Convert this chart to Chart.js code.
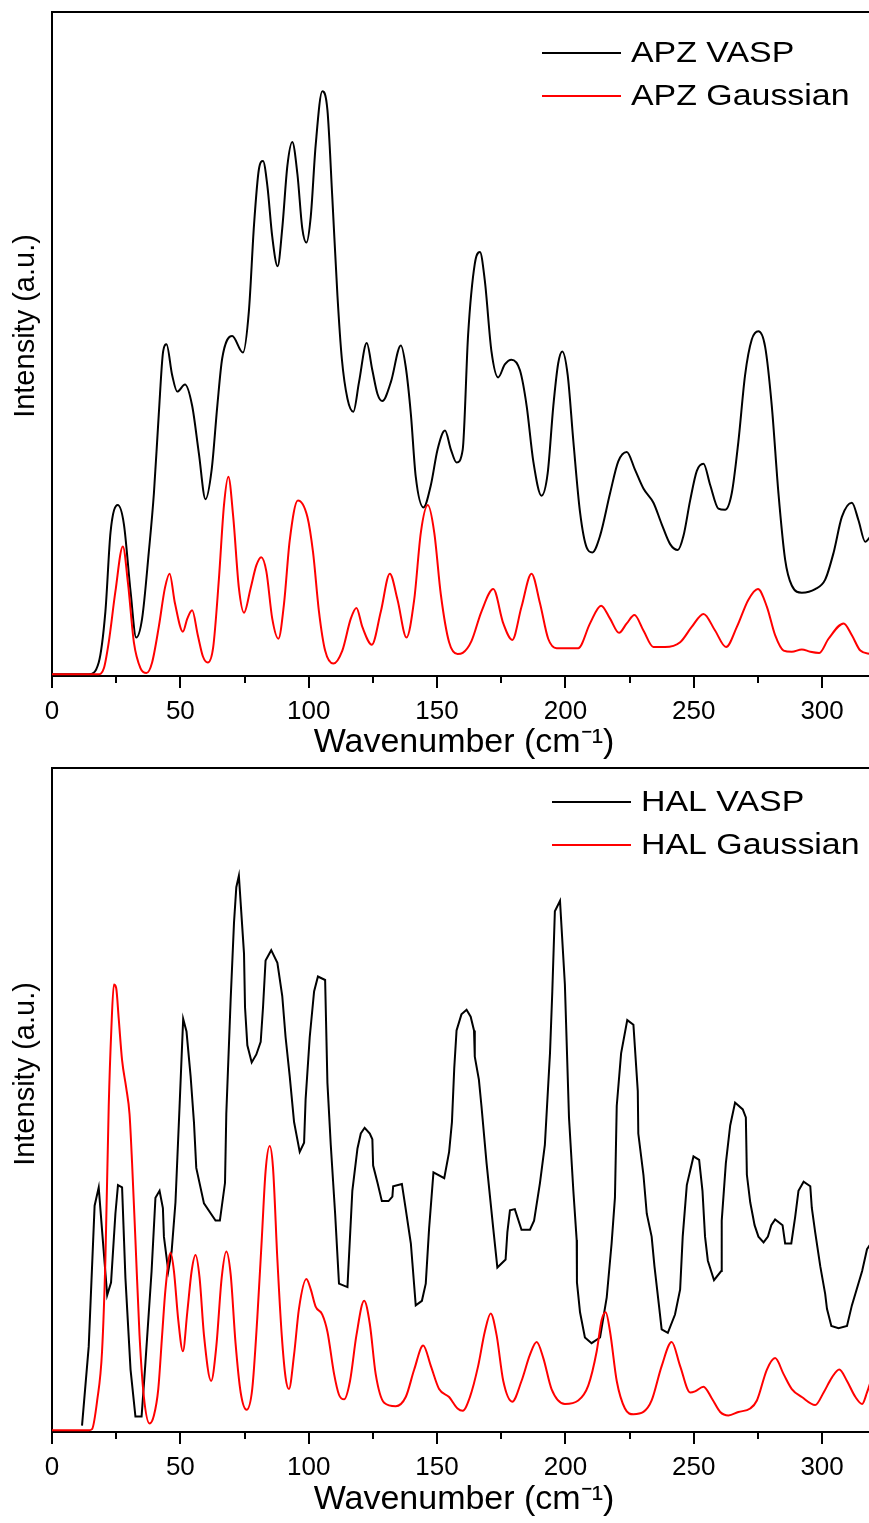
<!DOCTYPE html>
<html>
<head>
<meta charset="utf-8">
<script src="https://cdn.jsdelivr.net/npm/chart.js@4.4.1/dist/chart.umd.min.js"></script>
<style>
  html, body { margin: 0; padding: 0; background: #fff; overflow: hidden; }
  #page { position: relative; width: 869px; height: 1523px; overflow: hidden; background: #fff; }
  .box { position: absolute; left: 0; width: 876px; }
  #boxAPZ { top: 0; height: 760px; }
  #boxHAL { top: 760px; height: 763px; }
</style>
</head>
<body>
<div id="page">
  <div class="box" id="boxAPZ"><canvas id="chartAPZ"></canvas></div>
  <div class="box" id="boxHAL"><canvas id="chartHAL"></canvas></div>
</div>
<script>
// wavenumber (cm-1) / intensity (a.u.)
const apzVaspX = [0, 14.3, 18.2, 20.8, 22.8, 25.6, 28, 30.6, 32.8, 35.1,
  37.7, 39.7, 41.6, 43.3, 44.6, 46.8, 48.8, 51.8, 54.6, 57.2,
  59.8, 62.2, 64.4, 66.3, 70.2, 74.4, 76.7, 78.7, 80.6, 82.2,
  83.9, 85.8, 87.9, 89.7, 91.7, 93.6, 95.6, 97.5, 99.1, 100.8,
  102.7, 105.3, 107.3, 109.2, 111.2, 112.9, 115.1, 117.4, 119.6, 122.6,
  124.8, 126.8, 128.7, 132, 135.9, 137.8, 139.8, 141.7, 144.7, 147.6,
  150.2, 153.1, 155.4, 157.6, 160, 162.1, 164.7, 166.7, 168.6, 171.2,
  173.8, 176.4, 179, 182.3, 184.9, 187.5, 190.7, 193.1, 195.3, 197.2,
  198.8, 200.9, 203.1, 205.7, 208.3, 210.5, 213.5, 217.4, 220.6, 223.9,
  227.1, 230.4, 234.3, 237.5, 240.8, 243.8, 246, 248.6, 251.2, 253.8,
  256.4, 259.6, 262.2, 264.8, 267.4, 270, 272.6, 275.2, 277.8, 280.4,
  283, 285.6, 288.2, 292.1, 297.3, 301.2, 304.5, 307.7, 311.6, 314.2,
  316.8, 319];
const apzVaspY = [0, 0, 10, 53, 120, 143, 127, 70, 31, 47,
  103, 153, 220, 273, 279, 253, 239, 245, 227, 187,
  148, 173, 227, 267, 286, 272, 307, 380, 427, 434,
  413, 370, 345, 377, 430, 450, 423, 377, 365, 387,
  447, 493, 477, 403, 320, 267, 233, 222, 247, 280,
  257, 237, 231, 247, 278, 260, 220, 167, 141, 160,
  190, 206, 190, 179, 190, 287, 347, 357, 333, 273,
  251, 262, 266, 257, 227, 180, 151, 170, 227, 263,
  273, 253, 197, 137, 107, 103, 117, 153, 180, 188,
  173, 157, 145, 127, 110, 105, 117, 147, 172, 178,
  160, 140, 139, 153, 197, 253, 283, 290, 277, 227,
  153, 97, 75, 69, 72, 80, 103, 133, 145, 130,
  112, 117];

const apzGaussX = [0, 18, 20.2, 22.1, 24.7, 27.6, 29.6, 31.9, 34.5, 36.8,
  39, 41.6, 44, 45.8, 47.9, 51, 52.7, 54.6, 56.8, 58.8,
  60.7, 62.8, 65, 67, 68.7, 70.6, 72.8, 74.8, 77.4, 79.6,
  81.5, 83.5, 85.8, 88.2, 90.4, 92.6, 95.8, 99.5, 101.7, 104,
  106.4, 109.6, 113.1, 116.4, 118.6, 120.9, 124.6, 128.1, 131.6, 134.6,
  138.1, 141.1, 143.7, 146.4, 148.9, 151.5, 154.7, 158, 160, 163.4,
  167.3, 171.9, 175.8, 179.3, 182.9, 186.8, 190.1, 193.3, 196.6, 201.1,
  205, 209.6, 213.9, 217.4, 220.9, 223.9, 226.9, 230.4, 234.3, 238.8,
  244.7, 249.2, 253.8, 258.3, 262.6, 266.8, 271.3, 275, 278.5, 281.7,
  285, 288.2, 292.1, 295.4, 298.9, 302.5, 308.4, 311.6, 314.9, 319];
const apzGaussY = [0, 0, 5, 27, 70, 108, 77, 27, 5, 1,
  10, 40, 73, 85, 60, 36, 47, 54, 33, 15,
  10, 23, 80, 143, 167, 133, 73, 52, 73, 92,
  99, 87, 47, 30, 60, 113, 147, 133, 103, 53,
  20, 9, 20, 47, 56, 40, 25, 53, 85, 63,
  31, 63, 120, 143, 120, 67, 27, 17, 18, 28,
  53, 72, 43, 29, 57, 85, 60, 30, 22, 22,
  22, 43, 58, 47, 35, 43, 50, 37, 23, 23,
  27, 40, 51, 37, 23, 40, 63, 72, 57, 33,
  20, 19, 21, 19, 18, 30, 43, 33, 20, 17];

const halVaspX = [11.7, 14.3, 16.6, 18.2, 19.8, 21.5, 23, 24.7, 25.7, 27.3,
  28.6, 30.6, 32.5, 34.9, 36.4, 38.8, 40.3, 41.9, 43.2, 43.6,
  45.3, 46.6, 48.1, 49.7, 51.1, 52.4, 54, 55.3, 56.2, 59.2,
  63.7, 65.4, 67.4, 67.9, 69.6, 70.9, 71.8, 72.8, 74.8, 75.2,
  76.1, 77.8, 79.6, 81.3, 82.2, 83.2, 85.4, 87.8, 89.7, 91,
  92.6, 94.3, 96.5, 98.2, 98.8, 100.4, 102.1, 103.6, 106.4, 107.3,
  108.6, 110.3, 111.8, 115.1, 117, 119, 120.3, 121.8, 123.8, 124.8,
  125.1, 126.8, 128.5, 131.1, 132.6, 132.9, 136.3, 137.8, 139.8, 140.4,
  141.7, 144.1, 145.6, 146.9, 148.6, 152.8, 154.7, 155.8, 156.7, 157.6,
  159.5, 161.5, 163.1, 164.4, 164.7, 166.3, 167.3, 169.3, 171.9, 173.5,
  176.7, 177.4, 178.4, 180.3, 182.9, 186.2, 187.8, 190.1, 192, 194,
  194.9, 195.9, 197.9, 199.8, 201.4, 203.1, 204.4, 204.5, 205.7, 207.6,
  210.2, 213.5, 216.1, 218, 219.3, 220, 221.7, 224.1, 226.5, 228.2,
  228.4, 230.4, 231.7, 233.6, 234.7, 236.6, 237.5, 239.9, 242.7, 244.7,
  245.7, 247.3, 249.9, 252.1, 253.4, 254.4, 255.5, 257.9, 260.7, 260.9,
  262.5, 264.2, 266.1, 269.1, 270.3, 270.7, 272, 273.7, 275.2, 277.2,
  278.9, 280.2, 281.7, 284.6, 285.6, 288, 289.5, 290.8, 292.8, 295.4,
  296, 297.3, 299.3, 301.2, 301.9, 303.6, 306.4, 309.7, 311.6, 315.6,
  317.5, 319];
const halVaspY = [4, 73, 196, 212, 166, 118, 129, 189, 214, 212,
  133, 53, 12, 12, 59, 139, 203, 209, 194, 169,
  139, 156, 199, 283, 359, 348, 309, 269, 229, 198,
  183, 183, 216, 276, 376, 443, 474, 484, 416, 369,
  336, 321, 328, 339, 369, 410, 419, 408, 379, 343,
  309, 269, 243, 251, 289, 343, 383, 396, 393, 303,
  249, 189, 128, 125, 209, 246, 259, 264, 259, 254,
  231, 216, 200, 200, 204, 213, 215, 193, 163, 146,
  109, 113, 128, 176, 225, 220, 243, 269, 316, 349,
  363, 367, 361, 349, 326, 306, 283, 233, 176, 142,
  149, 173, 192, 193, 175, 175, 183, 216, 249, 329,
  383, 453, 462, 389, 273, 209, 166, 129, 103, 81,
  76, 81, 116, 163, 203, 283, 329, 358, 354, 296,
  259, 223, 189, 169, 143, 106, 88, 85, 101, 123,
  169, 214, 239, 236, 209, 169, 148, 131, 139, 183,
  233, 266, 286, 280, 273, 223, 199, 179, 169, 164,
  169, 179, 184, 179, 163, 163, 186, 209, 217, 213,
  194, 173, 143, 119, 106, 91, 89, 91, 109, 139,
  158, 163];

const halGaussX = [0, 14.3, 15.6, 17.6, 19.5, 20.8, 22.1, 23.1, 24.1, 25,
  26, 27.3, 28.9, 30.2, 31.2, 32.5, 34.1, 35.8, 38, 39.7,
  41.4, 42.9, 44.2, 46.2, 47.5, 49.2, 51, 52.7, 54.4, 55.9,
  57.5, 59.2, 62, 64, 66.1, 67.9, 69.6, 71.5, 73.5, 75.8,
  78, 80, 81.7, 83.2, 84.8, 86.1, 87.8, 89.5, 91, 92.3,
  94.3, 96.2, 99.1, 100.8, 102.7, 105.3, 107.3, 109.9, 111.8, 113.8,
  116.1, 118.6, 121.6, 123.8, 126.1, 129.4, 133.9, 137.8, 141.1, 144.6,
  147.6, 150.8, 154.7, 158, 160, 162.8, 166, 168.6, 170.9, 173.2,
  175.8, 179.3, 182.9, 186.2, 188.8, 191.4, 194.6, 199.8, 205, 208.9,
  212.2, 214.1, 215.7, 217.4, 220, 223.2, 226.5, 230.4, 233.6, 237.5,
  241.4, 244.7, 248.6, 250.5, 253.8, 257, 260.3, 263.5, 267.4, 272,
  274.6, 278.5, 281.7, 285, 288.2, 292.1, 297.3, 300.6, 303.8, 306.7,
  309.7, 313, 315.6, 317.5, 319];
const halGaussY = [0, 0, 1, 26, 69, 149, 283, 349, 389, 386,
  359, 323, 299, 276, 233, 166, 83, 29, 6, 13,
  36, 83, 123, 155, 139, 96, 69, 103, 139, 153,
  133, 83, 43, 73, 133, 156, 136, 76, 33, 18,
  36, 99, 166, 226, 248, 229, 149, 83, 46, 36,
  66, 106, 132, 123, 108, 101, 86, 49, 31, 27,
  43, 83, 113, 93, 49, 24, 21, 29, 53, 74,
  56, 36, 29, 19, 17, 29, 56, 86, 102, 83,
  43, 25, 43, 66, 77, 63, 36, 23, 26, 39,
  69, 96, 103, 86, 43, 19, 14, 16, 26, 56,
  77, 56, 33, 34, 38, 28, 16, 13, 16, 19,
  26, 53, 63, 49, 36, 29, 22, 33, 46, 53,
  43, 29, 23, 33, 43];

const FONT = '"Liberation Sans", Arial, Helvetica, sans-serif';
Chart.defaults.font.family = FONT;
Chart.defaults.color = '#000';

function toPoints(xs, ys) {
  return xs.map((x, i) => ({ x: x, y: ys[i] }));
}

// top border, minor/major x ticks, y title and the in-plot legend
const framePlugin = {
  id: 'frame',
  afterDraw(chart, args, opts) {
    const { ctx, chartArea: a } = chart;
    const x = chart.scales.x;
    ctx.save();
    ctx.strokeStyle = '#000';
    ctx.lineWidth = 2;
    ctx.beginPath();
    ctx.moveTo(a.left, a.top);
    ctx.lineTo(a.right, a.top);
    for (let v = 0; v <= x.max; v += 25) {
      const px = Math.round(x.getPixelForValue(v));
      const len = v % 50 === 0 ? 12 : 7;
      ctx.moveTo(px, a.bottom);
      ctx.lineTo(px, a.bottom + len);
    }
    ctx.stroke();

    // y title, rotated
    ctx.save();
    ctx.translate(26, opts.titleY);
    ctx.rotate(-Math.PI / 2);
    ctx.font = '29px ' + FONT;
    ctx.fillStyle = '#000';
    ctx.textAlign = 'center';
    ctx.textBaseline = 'middle';
    ctx.fillText('Intensity (a.u.)', 0, 0);
    ctx.restore();

    // legend
    ctx.font = '30px ' + FONT;
    ctx.textBaseline = 'middle';
    ctx.textAlign = 'left';
    chart.data.datasets.forEach((ds, i) => {
      const y = opts.y + i * opts.gap;
      ctx.strokeStyle = ds.borderColor;
      ctx.lineWidth = 2;
      ctx.beginPath();
      ctx.moveTo(opts.x, y);
      ctx.lineTo(opts.x + 79, y);
      ctx.stroke();
      ctx.save();
      ctx.translate(opts.x + 89, y + 1);
      ctx.scale(1.13, 1);
      ctx.fillStyle = '#000';
      ctx.fillText(ds.label, 0, 0);
      ctx.restore();
    });
    ctx.restore();
  }
};

function makeChart(id, sets, yMax, lay) {
  const ctx = document.getElementById(id).getContext('2d');
  return new Chart(ctx, {
    type: 'line',
    data: {
      datasets: sets.map(s => ({
        label: s.label,
        data: toPoints(s.xs, s.ys),
        borderColor: s.color,
        borderWidth: 2,
        pointRadius: 0,
        fill: false,
        tension: s.smooth ? 0.4 : 0,
        cubicInterpolationMode: s.smooth ? 'monotone' : 'default',
        order: s.order
      }))
    },
    options: {
      responsive: true,
      maintainAspectRatio: false,
      animation: false,
      devicePixelRatio: 1,
      layout: { padding: { top: lay.top, left: 6, right: 0, bottom: 0 } },
      plugins: {
        legend: { display: false },
        tooltip: { enabled: false },
        frame: { x: lay.legendX, y: lay.legendY, gap: 43, titleY: lay.titleY }
      },
      scales: {
        x: {
          type: 'linear',
          min: 0,
          max: 321,
          grid: { display: false, drawTicks: false },
          border: { display: true, color: '#000', width: 2 },
          ticks: {
            stepSize: 50,
            includeBounds: false,
            autoSkip: false,
            maxRotation: 0,
            padding: 20,
            color: '#000',
            font: { size: 26 }
          },
          title: {
            display: true,
            text: 'Wavenumber (cm⁻¹)',
            color: '#000',
            font: { size: 34, lineHeight: 1 },
            padding: { top: 0, bottom: lay.titlePad }
          },
          afterFit(scale) { scale.height = lay.xHeight; }
        },
        y: {
          min: -1.5,
          max: yMax,
          grid: { display: false, drawTicks: false },
          border: { display: true, color: '#000', width: 2 },
          ticks: { display: false },
          title: { display: false },
          afterFit(scale) { scale.width = 46; }
        }
      }
    },
    plugins: [framePlugin]
  });
}

makeChart('chartAPZ', [
  { label: 'APZ VASP', xs: apzVaspX, ys: apzVaspY, color: '#000000', smooth: true, order: 1 },
  { label: 'APZ Gaussian', xs: apzGaussX, ys: apzGaussY, color: '#ff0000', smooth: true, order: 0 }
], 560, { top: 12, xHeight: 84, titlePad: 0, legendX: 542, legendY: 53, titleY: 326 });

makeChart('chartHAL', [
  { label: 'HAL VASP', xs: halVaspX, ys: halVaspY, color: '#000000', smooth: false, order: 1 },
  { label: 'HAL Gaussian', xs: halGaussX, ys: halGaussY, color: '#ff0000', smooth: true, order: 0 }
], 578, { top: 8, xHeight: 91, titlePad: 6, legendX: 552, legendY: 42, titleY: 314 });
</script>
</body>
</html>
